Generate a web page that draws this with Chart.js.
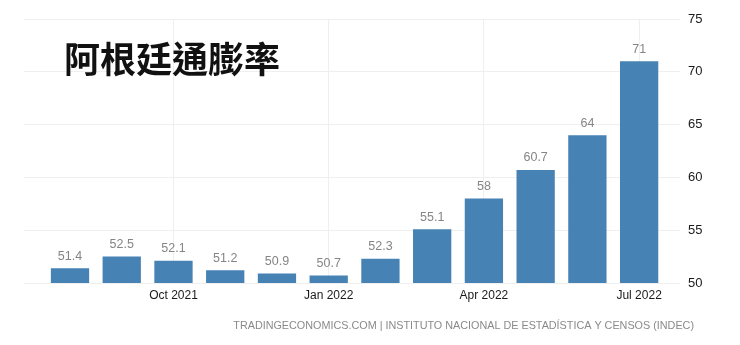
<!DOCTYPE html>
<html>
<head>
<meta charset="utf-8">
<script src="https://cdn.jsdelivr.net/npm/chart.js@4"></script>
<style>
  html, body { margin: 0; padding: 0; background: #fff; }
  #wrap { width: 740px; height: 345px; }
</style>
</head>
<body>
<div id="wrap"><canvas id="myChart"></canvas></div>
<script>
// data
const months = ['Aug 2021', 'Sep 2021', 'Oct 2021', 'Nov 2021', 'Dec 2021', 'Jan 2022',
                'Feb 2022', 'Mar 2022', 'Apr 2022', 'May 2022', 'Jun 2022', 'Jul 2022'];
const inflation = [51.4, 52.5, 52.1, 51.2, 50.9, 50.7, 52.3, 55.1, 58, 60.7, 64, 71];
const xTickLabels = ['Oct 2021', 'Jan 2022', 'Apr 2022', 'Jul 2022'];
const yTicks = [50, 55, 60, 65, 70, 75];

const titleText = '阿根廷通膨率';
const sourceText = 'TRADINGECONOMICS.COM | INSTITUTO NACIONAL DE ESTADÍSTICA Y CENSOS (INDEC)';

const barColor = '#4682b4';
const gridColor = '#efefef';
const baseFont = "'Liberation Sans', Arial, sans-serif";

const xTickPos = xTickLabels.map(l => months.indexOf(l));

// value labels, title, source
const extras = {
  id: 'extras',
  afterDatasetsDraw(chart) {
    const c = chart.ctx;
    const meta = chart.getDatasetMeta(0);
    c.save();
    c.font = '12.5px ' + baseFont;
    c.fillStyle = '#858585';
    c.textAlign = 'center';
    c.textBaseline = 'middle';
    meta.data.forEach((bar, i) => {
      c.fillText(String(inflation[i]), bar.x, bar.y - 12);
    });

    c.font = "bold 36px 'Noto Sans CJK TC', sans-serif";
    c.fillStyle = '#111';
    c.textAlign = 'left';
    c.fillText(titleText, 64, 59);

    c.font = '10.8px ' + baseFont;
    c.fillStyle = '#8a8a8a';
    c.textAlign = 'right';
    c.fillText(sourceText, 694, 326);
    c.restore();
  }
};

new Chart(document.getElementById('myChart').getContext('2d'), {
  type: 'bar',
  data: {
    datasets: [{
      label: titleText,
      data: inflation.map((v, i) => ({ x: i, y: v })),
      backgroundColor: barColor,
      borderWidth: 0,
      barPercentage: 0.74,
      categoryPercentage: 1
    }]
  },
  options: {
    responsive: true,
    maintainAspectRatio: false,
    animation: false,
    layout: { padding: { left: 24, top: 19, right: 15, bottom: 0 } },
    plugins: {
      legend: { display: false },
      tooltip: { enabled: false }
    },
    scales: {
      x: {
        type: 'linear',
        offset: false,
        min: -0.889,
        max: 11.79,
        border: { display: false },
        grid: { color: gridColor, drawTicks: false, offset: false },
        afterBuildTicks: axis => { axis.ticks = xTickPos.map(v => ({ value: v })); },
        afterFit: axis => { axis.height = 62; },
        ticks: {
          autoSkip: false,
          maxRotation: 0,
          padding: 5,
          color: '#1a1a1a',
          font: { family: baseFont, size: 12 },
          callback: v => months[v]
        }
      },
      y: {
        position: 'right',
        min: 50,
        max: 75,
        border: { display: false },
        grid: { color: gridColor, drawTicks: false },
        afterBuildTicks: axis => { axis.ticks = yTicks.map(v => ({ value: v })); },
        afterFit: axis => { axis.width = 45; },
        ticks: {
          padding: 8,
          color: '#1a1a1a',
          font: { family: baseFont, size: 13 }
        }
      }
    }
  },
  plugins: [extras]
});
</script>
</body>
</html>
